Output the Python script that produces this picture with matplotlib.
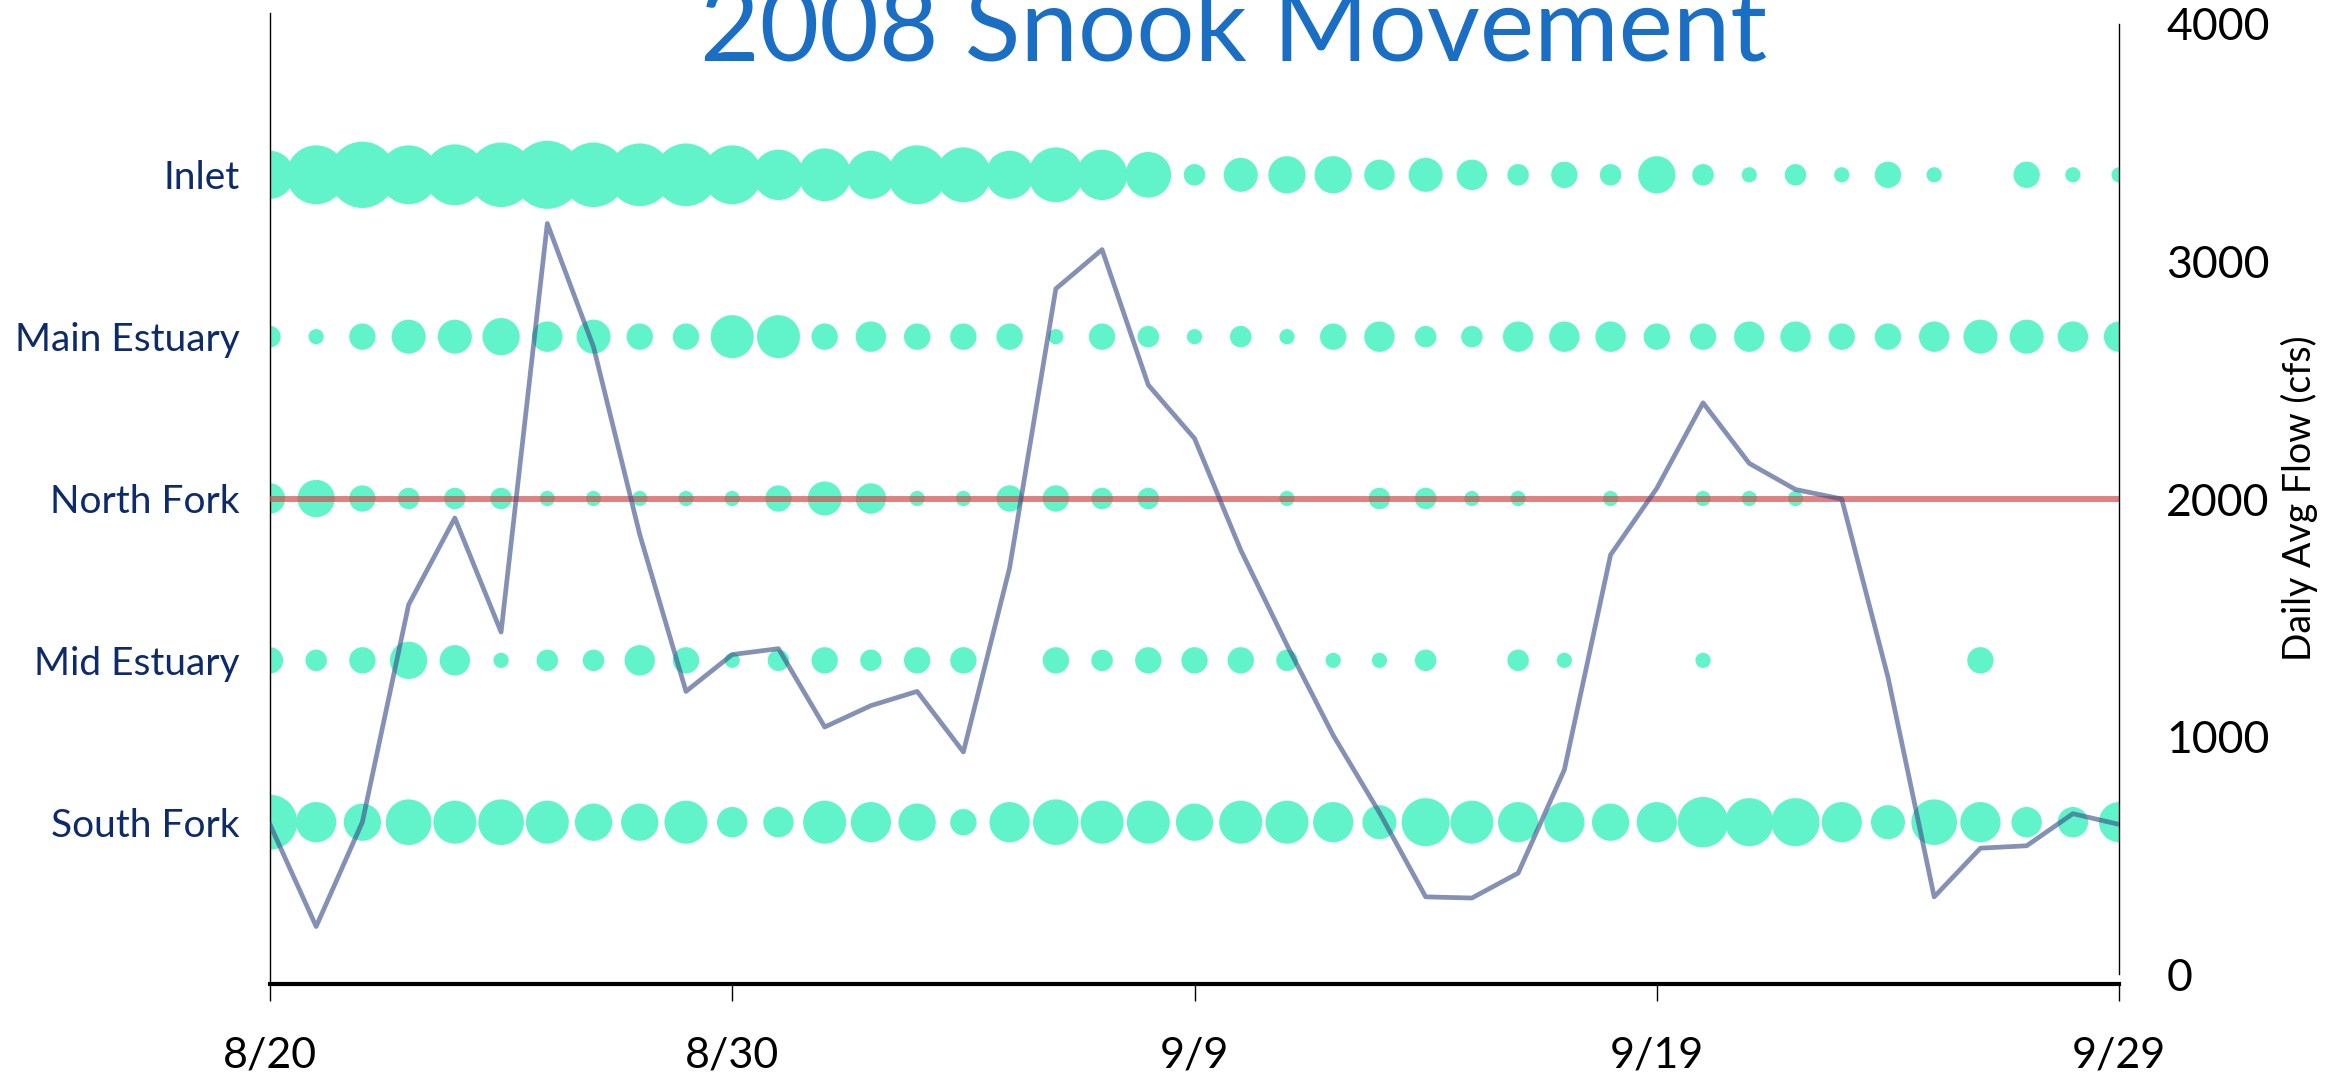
import matplotlib.pyplot as plt
import pandas as pd

plt.rcParams['font.family'] = ['Lato', 'DejaVu Sans']

# days 8/20 .. 9/29 (2008)
dates = pd.date_range('2008-08-20', '2008-09-29', freq='D')

sites = ['South Fork', 'Mid Estuary', 'North Fork', 'Main Estuary', 'Inlet']

# fish detected per site per day
inlet = [10, 15, 19, 15, 16, 18, 20, 18, 17, 17, 15, 11, 12, 10, 15, 13, 10, 13, 11, 9, 2,
         5, 6, 6, 4, 5, 4, 2, 3, 2, 6, 2, 1, 2, 1, 3, 1, 0, 3, 1, 1]
main_estuary = [2, 1, 3, 5, 5, 6, 4, 5, 3, 3, 8, 8, 3, 4, 3, 3, 3, 1, 3, 2, 1,
                2, 1, 3, 4, 2, 2, 4, 4, 4, 3, 3, 4, 4, 3, 3, 4, 5, 5, 4, 4]
north_fork = [4, 6, 3, 2, 2, 2, 1, 1, 1, 1, 1, 3, 5, 4, 1, 1, 3, 3, 2, 2, 0,
              0, 1, 0, 2, 2, 1, 1, 0, 1, 0, 1, 1, 1, 0, 0, 0, 0, 0, 0, 0]
mid_estuary = [3, 2, 3, 6, 4, 1, 2, 2, 4, 3, 1, 2, 3, 2, 3, 3, 0, 3, 2, 3, 3,
               3, 2, 1, 1, 2, 0, 2, 1, 0, 0, 1, 0, 0, 0, 0, 0, 3, 0, 0, 0]
south_fork = [13, 7, 6, 9, 8, 9, 8, 6, 6, 8, 4, 4, 8, 7, 6, 3, 7, 9, 8, 8, 6,
              8, 8, 7, 5, 10, 8, 7, 7, 6, 7, 11, 10, 10, 7, 5, 9, 7, 4, 4, 7]
counts = [south_fork, mid_estuary, north_fork, main_estuary, inlet]

# daily average flow (cfs)
flow = [630, 200, 640, 1555, 1920, 1440, 3160, 2640, 1850, 1190, 1345, 1370, 1040, 1130,
        1190, 935, 1710, 2885, 3050, 2480, 2255, 1785, 1385, 1005, 680, 325, 320, 425,
        860, 1765, 2045, 2405, 2150, 2040, 2000, 1250, 325, 530, 540, 675, 630]

fig = plt.figure(figsize=(23.31, 10.81), dpi=100)
ax = fig.add_axes([0.1158, 0.0897, 0.7933, 0.8983])

for i, c in enumerate(counts):
    ax.scatter(dates, [i + 1] * len(dates), s=[120 * n for n in c],
               color='#61F4CB', linewidths=0, zorder=2)

ax.axhline(3, color='#D24C4C', alpha=0.7, lw=4.3, zorder=3)

ax.set_xlim(dates[0], dates[-1])
ax.set_ylim(0, 6)
ax.set_yticks(range(1, 6))
ax.set_yticklabels(sites, fontsize=28, color='#0D2A6B')
ax.tick_params(axis='y', length=0, pad=22)
ticks = dates[::10]
ax.set_xticks(ticks)
ax.set_xticklabels([f'{d.month}/{d.day}' for d in ticks], fontsize=31)
ax.tick_params(axis='x', length=12, width=1, direction='out', pad=26)
ax.spines['top'].set_visible(False)
ax.spines['right'].set_visible(False)
ax.spines['left'].set_linewidth(1)
ax.spines['bottom'].set_linewidth(3)

ax2 = ax.twinx()
ax2.plot(dates, flow, color='#3B4E87', alpha=0.62, lw=3.4, zorder=4)
ax2.set_ylim(-42.1, 4046.3)
ax2.set_yticks([0, 1000, 2000, 3000, 4000])
ax2.tick_params(axis='y', length=0, labelsize=32, pad=34)
ax2.spines['right'].set_bounds(0, 4000)
ax2.spines['right'].set_linewidth(1)
for s in ['top', 'left', 'bottom']:
    ax2.spines[s].set_visible(False)
ax2.set_ylabel('Daily Avg Flow (cfs)', fontsize=27, labelpad=8)

fig.text(0.529, 0.944, '2008 Snook Movement', fontsize=74, color='#1A6FC4',
         ha='center', va='baseline')

fig.savefig('out.png', dpi=100)
